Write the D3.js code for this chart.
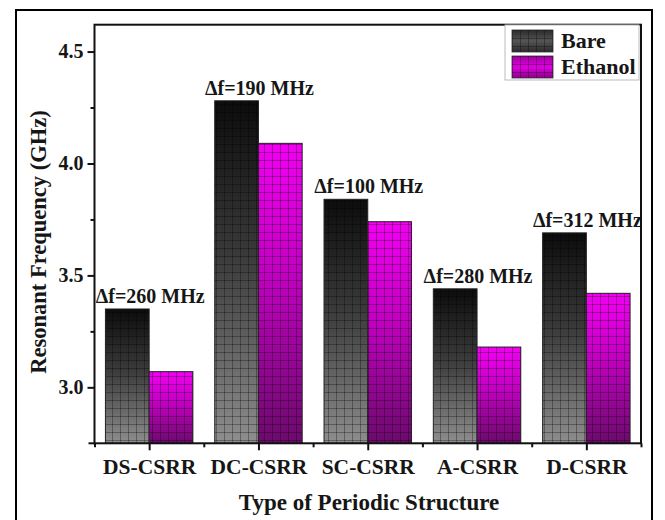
<!DOCTYPE html>
<html>
<head>
<meta charset="utf-8">
<script src="https://cdn.jsdelivr.net/npm/d3@7"></script>
<style>
html,body{margin:0;padding:0;background:#fff;}
svg{display:block;}
</style>
</head>
<body>
<script>
const categories = ["DS-CSRR", "DC-CSRR", "SC-CSRR", "A-CSRR", "D-CSRR"];
const bare = [3.35, 4.28, 3.84, 3.44, 3.69];
const ethanol = [3.07, 4.09, 3.74, 3.18, 3.42];
const deltaLabels = ["\u0394f=260 MHz", "\u0394f=190 MHz", "\u0394f=100 MHz", "\u0394f=280 MHz", "\u0394f=312 MHz"];
const yTicks = [3.0, 3.5, 4.0, 4.5];
const yMinorTicks = [3.25, 3.75, 4.25];
const seriesNames = ["Bare", "Ethanol"];

const FONT = "Times New Roman, Liberation Serif, DejaVu Serif, serif";
const W = 665, H = 520;
const L = 94.5, R = 641, T = 24.7, B = 443.3;

const svg = d3.select("body").append("svg").attr("width", W).attr("height", H)
  .style("font-family", FONT).style("font-weight", "bold");
const defs = svg.append("defs");

const gBare = defs.append("linearGradient").attr("id", "gBare").attr("x1", 0).attr("y1", 0).attr("x2", 0).attr("y2", 1);
gBare.append("stop").attr("offset", "0%").attr("stop-color", "#0c0c0c");
gBare.append("stop").attr("offset", "45%").attr("stop-color", "#3a3a3a");
gBare.append("stop").attr("offset", "100%").attr("stop-color", "#8e8e8e");
const gEth = defs.append("linearGradient").attr("id", "gEth").attr("x1", 0).attr("y1", 0).attr("x2", 0).attr("y2", 1);
gEth.append("stop").attr("offset", "0%").attr("stop-color", "#f200f2");
gEth.append("stop").attr("offset", "45%").attr("stop-color", "#c000c0");
gEth.append("stop").attr("offset", "100%").attr("stop-color", "#6c0a6c");
const lgBare = defs.append("linearGradient").attr("id", "lgBare").attr("x1", 0).attr("y1", 0).attr("x2", 0).attr("y2", 1);
lgBare.append("stop").attr("offset", "0%").attr("stop-color", "#2a2a2a");
lgBare.append("stop").attr("offset", "50%").attr("stop-color", "#555");
lgBare.append("stop").attr("offset", "100%").attr("stop-color", "#2a2a2a");
const lgEth = defs.append("linearGradient").attr("id", "lgEth").attr("x1", 0).attr("y1", 0).attr("x2", 0).attr("y2", 1);
lgEth.append("stop").attr("offset", "0%").attr("stop-color", "#a000a0");
lgEth.append("stop").attr("offset", "50%").attr("stop-color", "#e000e0");
lgEth.append("stop").attr("offset", "100%").attr("stop-color", "#8a008a");

const pat = defs.append("pattern").attr("id", "grid").attr("patternUnits", "userSpaceOnUse")
  .attr("width", 8).attr("height", 8);
pat.append("path").attr("d", "M0,0.5H8M0.5,0V8").attr("stroke", "rgba(0,0,0,0.3)").attr("stroke-width", 1).attr("fill", "none");

svg.append("rect").attr("x", 16).attr("y", 10).attr("width", 636).attr("height", 520)
  .attr("fill", "none").attr("stroke", "#000").attr("stroke-width", 2);

const x = d3.scaleLinear().domain([0.5, 5.5]).range([L, R]);
const y = d3.scaleLinear().domain([2.75, 4.62]).range([B, T]);
const bw = 0.4;

const data = categories.map((c, i) => ({c, i: i + 1, bare: bare[i], eth: ethanol[i], lab: deltaLabels[i]}));

const bars = svg.append("g");
function drawSeries(key, off, grad) {
  const g = bars.append("g");
  g.selectAll("rect.f").data(data).join("rect").attr("class", "f")
    .attr("x", d => x(d.i + off)).attr("width", d => x(d.i + off + bw) - x(d.i + off))
    .attr("y", d => y(d[key])).attr("height", d => B - y(d[key]))
    .attr("fill", `url(#${grad})`);
  g.selectAll("rect.p").data(data).join("rect").attr("class", "p")
    .attr("x", d => x(d.i + off)).attr("width", d => x(d.i + off + bw) - x(d.i + off))
    .attr("y", d => y(d[key])).attr("height", d => B - y(d[key]))
    .attr("fill", "url(#grid)").attr("stroke", "#222").attr("stroke-width", 1);
}
drawSeries("bare", -bw, "gBare");
drawSeries("eth", 0, "gEth");

function styleText(sel, size) {
  return sel.style("font-family", FONT).style("font-weight", "bold").style("font-size", size + "px").attr("fill", "#161616");
}

styleText(svg.append("g").selectAll("text").data(data).join("text")
  .attr("x", d => x(d.i) + 1).attr("y", d => y(d.bare) - 6)
  .attr("text-anchor", "middle").text(d => d.lab), 20);

svg.append("rect").attr("x", L).attr("y", T).attr("width", R - L).attr("height", B - T)
  .attr("fill", "none").attr("stroke", "#111").attr("stroke-width", 2);

const yAxis = svg.append("g").attr("transform", `translate(${L},0)`)
  .call(d3.axisLeft(y).tickValues(yTicks).tickFormat(d3.format(".1f")).tickSize(7).tickPadding(4));
const yMinor = svg.append("g").attr("transform", `translate(${L},0)`)
  .call(d3.axisLeft(y).tickValues(yMinorTicks).tickFormat("").tickSize(4));
const xAxis = svg.append("g").attr("transform", `translate(0,${B})`)
  .call(d3.axisBottom(x).tickValues([1, 2, 3, 4, 5]).tickFormat((d, i) => categories[i]).tickSize(7).tickPadding(8));
const xMinor = svg.append("g").attr("transform", `translate(0,${B})`)
  .call(d3.axisBottom(x).tickValues([0.5, 1.5, 2.5, 3.5, 4.5, 5.5]).tickFormat("").tickSize(4));
[yAxis, yMinor, xAxis, xMinor].forEach(a => {
  a.attr("font-family", null).attr("font-size", null);
  a.select(".domain").remove();
  a.selectAll("line").attr("stroke", "#111").attr("stroke-width", 2);
});
styleText(yAxis.selectAll("text"), 20);
styleText(xAxis.selectAll("text"), 21.5);
svg.append("line").attr("x1", L - 6).attr("x2", L).attr("y1", B).attr("y2", B).attr("stroke", "#111").attr("stroke-width", 2);

styleText(svg.append("text").attr("transform", `translate(46,${(T + B) / 2 + 8}) rotate(-90)`)
  .attr("text-anchor", "middle").text("Resonant Frequency (GHz)"), 22.5);
styleText(svg.append("text").attr("x", 369).attr("y", 510)
  .attr("text-anchor", "middle").text("Type of Periodic Structure"), 23);

const lg = svg.append("g");
lg.append("rect").attr("x", 505).attr("y", 25).attr("width", 134).attr("height", 55)
  .attr("fill", "#fff").attr("stroke", "#bbb").attr("stroke-width", 1);
const lgItems = [{n: seriesNames[0], g: "lgBare"}, {n: seriesNames[1], g: "lgEth"}];
const lgRows = lg.selectAll("g.item").data(lgItems).join("g").attr("class", "item")
  .attr("transform", (d, i) => `translate(512,${30 + i * 26})`);
lgRows.append("rect").attr("width", 41).attr("height", 22).attr("fill", d => `url(#${d.g})`);
lgRows.append("rect").attr("width", 41).attr("height", 22).attr("fill", "url(#grid)").attr("stroke", "#333").attr("stroke-width", 0.8);
styleText(lgRows.append("text").attr("x", 49).attr("y", 18).text(d => d.n), 22);
</script>
</body>
</html>
